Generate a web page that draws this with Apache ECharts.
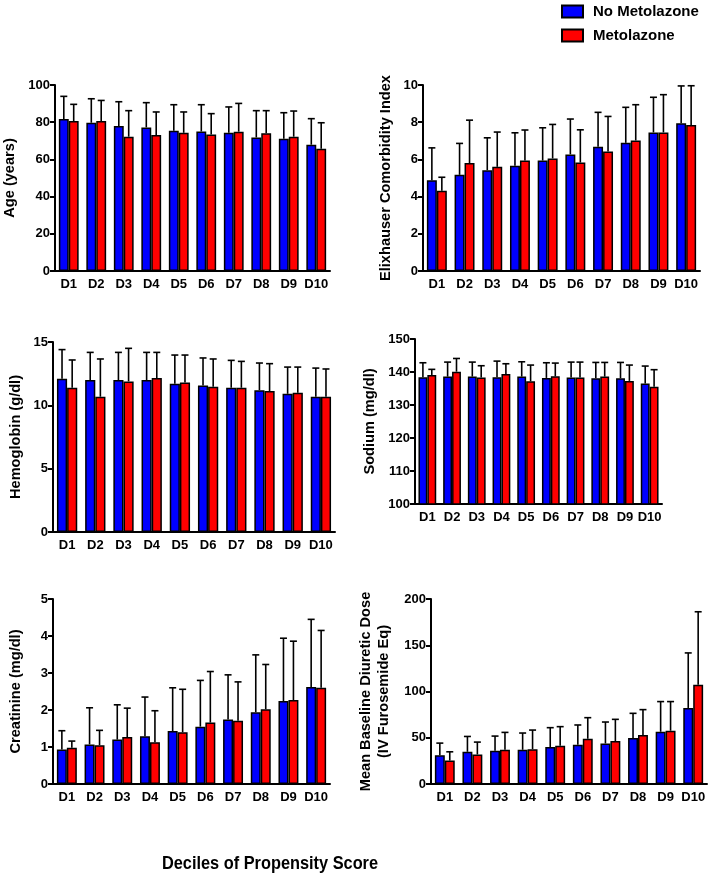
<!DOCTYPE html>
<html>
<head>
<meta charset="utf-8">
<script src="https://cdn.jsdelivr.net/npm/echarts@6/dist/echarts.min.js"></script>
<style>html,body{margin:0;padding:0;background:#fff}#c{width:709px;height:884px}</style>
</head>
<body>
<div id="c"></div>
<script>
var categories = ['D1','D2','D3','D4','D5','D6','D7','D8','D9','D10'];
var seriesNames = ['No Metolazone','Metolazone'];

var ageNo = [81.7,79.7,77.9,77.2,75.4,75.0,74.3,71.8,71.1,67.9];
var ageNoSD = [12.2,12.9,13.1,13.3,14.0,14.4,13.9,14.4,14.0,14.0];
var ageMet = [80.6,80.6,72.2,73.1,74.3,73.4,74.9,74.0,72.2,65.7];
var ageMetSD = [9.0,11.1,14.0,12.4,11.2,11.2,15.2,12.2,13.8,14.0];

var elixNo = [4.88,5.17,5.42,5.66,5.94,6.27,6.68,6.89,7.45,7.94];
var elixNoSD = [1.74,1.69,1.74,1.77,1.76,1.90,1.85,1.91,1.89,2.01];
var elixMet = [4.31,5.80,5.60,5.94,6.05,5.83,6.43,7.02,7.45,7.85];
var elixMetSD = [0.73,2.31,1.87,1.64,1.83,1.76,1.88,1.92,2.03,2.11];

var hgbNo = [12.1,12.0,12.0,12.0,11.7,11.57,11.39,11.2,10.91,10.68];
var hgbNoSD = [2.3,2.18,2.18,2.18,2.27,2.17,2.16,2.14,2.11,2.26];
var hgbMet = [11.39,10.68,11.89,12.15,11.81,11.47,11.39,11.13,10.99,10.68];
var hgbMetSD = [2.19,2.98,2.61,2.03,2.16,2.19,2.08,2.16,2.03,2.19];

var naNo = [138.4,138.6,138.6,138.4,138.6,138.2,138.3,138.1,138.1,136.5];
var naNoSD = [4.4,4.4,4.4,4.9,4.5,4.6,4.7,4.8,4.8,5.3];
var naMet = [139.1,140.1,138.3,139.4,137.2,138.7,138.3,138.6,137.3,135.5];
var naMetSD = [1.7,4.0,3.6,3.1,4.9,4.0,4.7,4.3,4.8,5.2];

var crNo = [0.93,1.07,1.20,1.29,1.43,1.55,1.74,1.94,2.24,2.62];
var crNoSD = [0.51,0.99,0.94,1.06,1.17,1.25,1.21,1.55,1.70,1.83];
var crMet = [0.98,1.05,1.27,1.13,1.40,1.66,1.71,2.02,2.27,2.60];
var crMetSD = [0.18,0.40,0.78,0.85,1.16,1.38,1.05,1.21,1.59,1.55];

var duNo = [31.2,34.8,35.9,37.0,39.9,42.4,43.8,49.6,56.5,82.2];
var duNoSD = [13.0,16.6,15.9,18.1,21.0,21.4,23.2,26.8,32.6,59.5];
var duMet = [25.4,31.9,37.0,37.7,41.3,48.9,46.4,52.9,57.6,107.2];
var duMetSD = [9.4,13.4,18.8,20.6,20.7,22.8,23.5,27.5,31.5,79.0];

var FONT = '"Liberation Sans", Arial, sans-serif';
var BLUE = '#0000FF', RED = '#FF0000';
var GAP = 0.28;

var panels = [
  {name:'Age (years)', min:0, max:100, interval:20, no:ageNo, noSD:ageNoSD, met:ageMet, metSD:ageMetSD,
   grid:{left:53, top:85, width:277, height:186}, nameGap:36},
  {name:'Elixhauser Comorbidity Index', min:0, max:10, interval:2, no:elixNo, noSD:elixNoSD, met:elixMet, metSD:elixMetSD,
   grid:{left:423, top:85, width:277, height:186}, nameGap:28},
  {name:'Hemoglobin (g/dl)', min:0, max:15, interval:5, no:hgbNo, noSD:hgbNoSD, met:hgbMet, metSD:hgbMetSD,
   grid:{left:53, top:342, width:282, height:190}, nameGap:28},
  {name:'Sodium (mg/dl)', min:100, max:150, interval:10, no:naNo, noSD:naNoSD, met:naMet, metSD:naMetSD,
   grid:{left:415, top:339, width:247, height:165}, nameGap:36},
  {name:'Creatinine (mg/dl)', min:0, max:5, interval:1, no:crNo, noSD:crNoSD, met:crMet, metSD:crMetSD,
   grid:{left:53, top:599, width:277, height:185}, nameGap:28},
  {name:'Mean Baseline Diuretic Dose\n(IV Furosemide Eq)', min:0, max:200, interval:50, no:duNo, noSD:duNoSD, met:duMet, metSD:duMetSD,
   grid:{left:431, top:599, width:276, height:185}, nameGap:38}
];

function errRender(sign) {
  return function (params, api) {
    var idx = api.value(0);
    var val = api.value(1);
    var top = val + api.value(2);
    var catW = api.size([1, 0])[0];
    var barW = catW * (1 - GAP) / 2;
    var p0 = api.coord([idx, val]);
    var p1 = api.coord([idx, top]);
    var x = p0[0] + sign * barW / 2;
    var cap = 3.5;
    var st = {stroke:'#000', lineWidth:1.6};
    return {type:'group', children:[
      {type:'line', shape:{x1:x, y1:p0[1], x2:x, y2:p1[1]}, style:st},
      {type:'line', shape:{x1:x-cap, y1:p1[1], x2:x+cap, y2:p1[1]}, style:st}
    ]};
  };
}

var grids = [], xAxes = [], yAxes = [], series = [];
panels.forEach(function (p, i) {
  grids.push(p.grid);
  xAxes.push({
    type:'category', gridIndex:i, data:categories,
    axisLine:{lineStyle:{color:'#000', width:2}},
    axisTick:{alignWithLabel:true, interval:0, length:5, lineStyle:{color:'#000', width:2}},
    axisLabel:{interval:0, color:'#000', fontFamily:FONT, fontWeight:'bold', fontSize:13, margin:7}
  });
  yAxes.push({
    type:'value', gridIndex:i, min:p.min, max:p.max, interval:p.interval,
    name:p.name, nameLocation:'middle', nameRotate:90, nameGap:p.nameGap,
    nameTextStyle:{color:'#000', fontFamily:FONT, fontWeight:'bold', fontSize:14.6, lineHeight:18},
    axisLine:{show:true, lineStyle:{color:'#000', width:2}},
    axisTick:{show:true, length:5, lineStyle:{color:'#000', width:2}},
    axisLabel:{color:'#000', fontFamily:FONT, fontWeight:'bold', fontSize:13, margin:5},
    splitLine:{show:false}
  });
  var barStyle = function (c) { return {color:c, borderColor:'#000', borderWidth:1.5}; };
  series.push({type:'bar', name:seriesNames[0], xAxisIndex:i, yAxisIndex:i, data:p.no,
    barGap:'0%', barCategoryGap:(GAP*100)+'%', itemStyle:barStyle(BLUE), z:2});
  series.push({type:'bar', name:seriesNames[1], xAxisIndex:i, yAxisIndex:i, data:p.met,
    barGap:'0%', barCategoryGap:(GAP*100)+'%', itemStyle:barStyle(RED), z:2});
  series.push({type:'custom', name:'err-no-'+i, xAxisIndex:i, yAxisIndex:i,
    data:p.no.map(function (v, k) { return [k, v, p.noSD[k]]; }),
    encode:{x:0, y:1}, renderItem:errRender(-1), z:3});
  series.push({type:'custom', name:'err-met-'+i, xAxisIndex:i, yAxisIndex:i,
    data:p.met.map(function (v, k) { return [k, v, p.metSD[k]]; }),
    encode:{x:0, y:1}, renderItem:errRender(1), z:3});
});

var chart = echarts.init(document.getElementById('c'), null, {renderer:'canvas'});
chart.setOption({
  animation:false,
  backgroundColor:'#fff',
  legend:{
    data:seriesNames, orient:'vertical', left:556, top:-1,
    itemWidth:21, itemHeight:12, itemGap:9, icon:'rect',
    textStyle:{color:'#000', fontFamily:FONT, fontWeight:'bold', fontSize:15, padding:[0,0,0,5]}
  },
  graphic:[{
    type:'text', x:270, y:864, scaleX:0.86, scaleY:1,
    style:{text:'Deciles of Propensity Score', fill:'#000', font:'bold 19px "Liberation Sans", Arial, sans-serif',
      textAlign:'center', textVerticalAlign:'middle'}
  }],
  grid:grids, xAxis:xAxes, yAxis:yAxes, series:series
});
</script>
</body>
</html>
